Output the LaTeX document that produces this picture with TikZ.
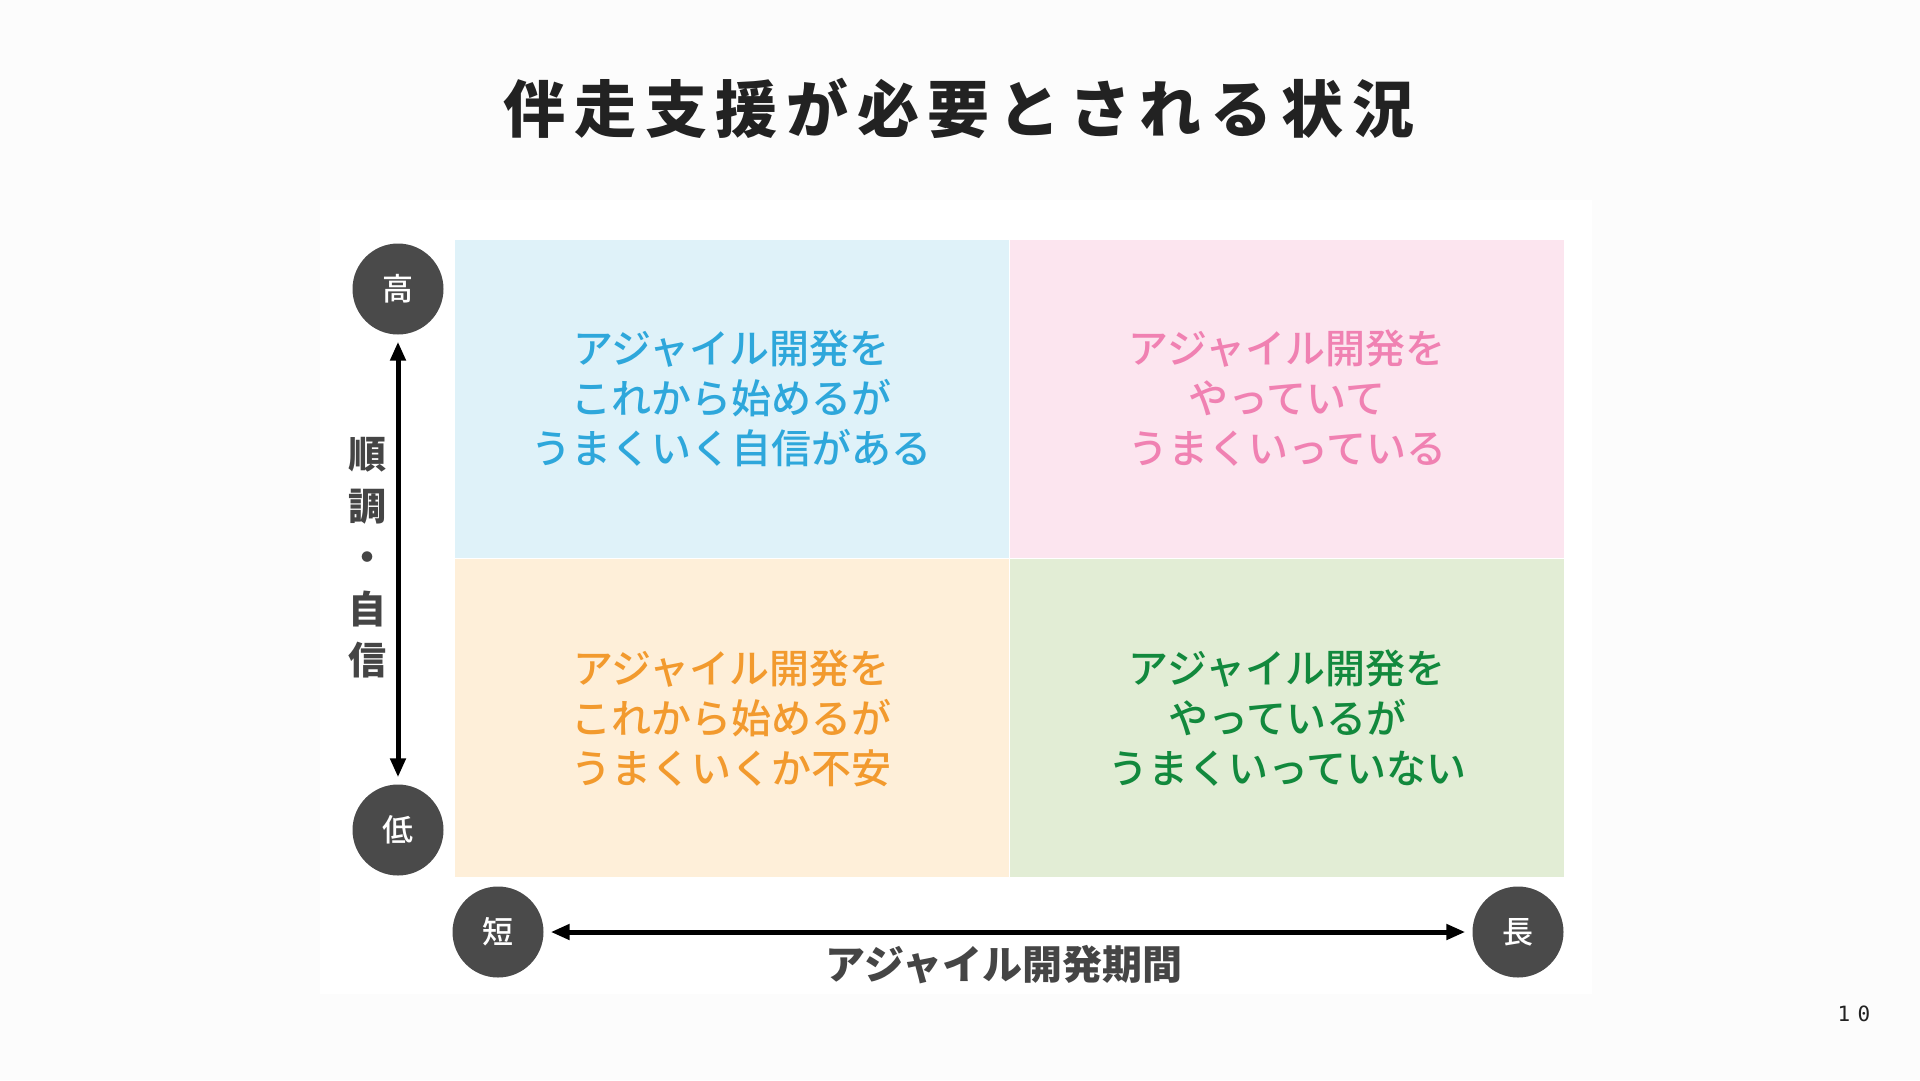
\documentclass[tikz,border=0pt]{standalone}
\usepackage{fontspec}
\setmainfont{Noto Sans CJK JP}
\newfontfamily\medfont{Noto Sans CJK JP}[UprightFont=* Medium]
\newfontfamily\pagefont[LetterSpace=35]{DejaVu Sans Mono}
\usetikzlibrary{arrows.meta}
\definecolor{pagebg}{HTML}{FCFCFC}
\definecolor{dotgray}{HTML}{4A4A4A}
\definecolor{labelgray}{HTML}{454545}
\definecolor{titleblack}{HTML}{222222}
\definecolor{qblue}{HTML}{DFF2F9}
\definecolor{tblue}{HTML}{2EA7DB}
\definecolor{qpink}{HTML}{FCE5EF}
\definecolor{tpink}{HTML}{F081B2}
\definecolor{qorange}{HTML}{FEEFD9}
\definecolor{torange}{HTML}{F29A2E}
\definecolor{qgreen}{HTML}{E2EDD5}
\definecolor{tgreen}{HTML}{12893D}

\begin{document}
\begin{tikzpicture}[x=1pt,y=-1pt,
  quad/.style={minimum width=555.5pt,minimum height=319.5pt,inner sep=0pt,
    draw=white,line width=1.5pt,align=center,font=\medfont\fontsize{40}{50}\selectfont},
  level/.style={circle,fill=dotgray,minimum size=91pt,inner sep=0pt,
    text=white,font=\medfont\fontsize{31}{31}\selectfont},
  axisarrow/.style={{Triangle[width=15pt,length=19pt]}-{Triangle[width=15pt,length=19pt]},
    line width=5pt,shorten <=7pt,shorten >=7pt}]
  \useasboundingbox (0,0) rectangle (1920,1080);
  \fill[pagebg] (0,0) rectangle (1920,1080);
  \fill[white] (320,200) rectangle (1592,994);
  % title
  \node[text=titleblack,font=\fontsize{62}{62}\selectfont\bfseries\addfontfeature{LetterSpace=14}]
    (title) at (959,108) {伴走支援が必要とされる状況};
  % quadrants
  \node[quad,fill=qblue,text=tblue]     (tl) at (731.5,398.5) {アジャイル開発を\\これから始めるが\\うまくいく自信がある};
  \node[quad,fill=qpink,text=tpink]     (tr) at (1287,398.5)  {アジャイル開発を\\やっていて\\うまくいっている};
  \node[quad,fill=qorange,text=torange] (bl) at (731.5,718)   {アジャイル開発を\\これから始めるが\\うまくいくか不安};
  \node[quad,fill=qgreen,text=tgreen]   (br) at (1287,718)    {アジャイル開発を\\やっているが\\うまくいっていない};
  % axes
  \node[level] (high)  at (398,289)  {高};
  \node[level] (low)   at (398,830)  {低};
  \node[level] (short) at (498,932)  {短};
  \node[level] (long)  at (1518,932) {長};
  \draw[axisarrow] (high) -- (low);
  \draw[axisarrow] (short) -- (long);
  \begin{scope}[text=labelgray]
    \node[align=center,font=\fontsize{38}{51.5}\selectfont\bfseries] (vlabel) at (367,558) {順\\調\\・\\自\\信};
    \node[font=\fontsize{40}{40}\selectfont\bfseries] (hlabel) at (1004,965) {アジャイル開発期間};
  \end{scope}
  \node[text=titleblack,font=\pagefont\fontsize{21}{21}\selectfont] (pagenum) at (1854,1014) {10};
\end{tikzpicture}
\end{document}
